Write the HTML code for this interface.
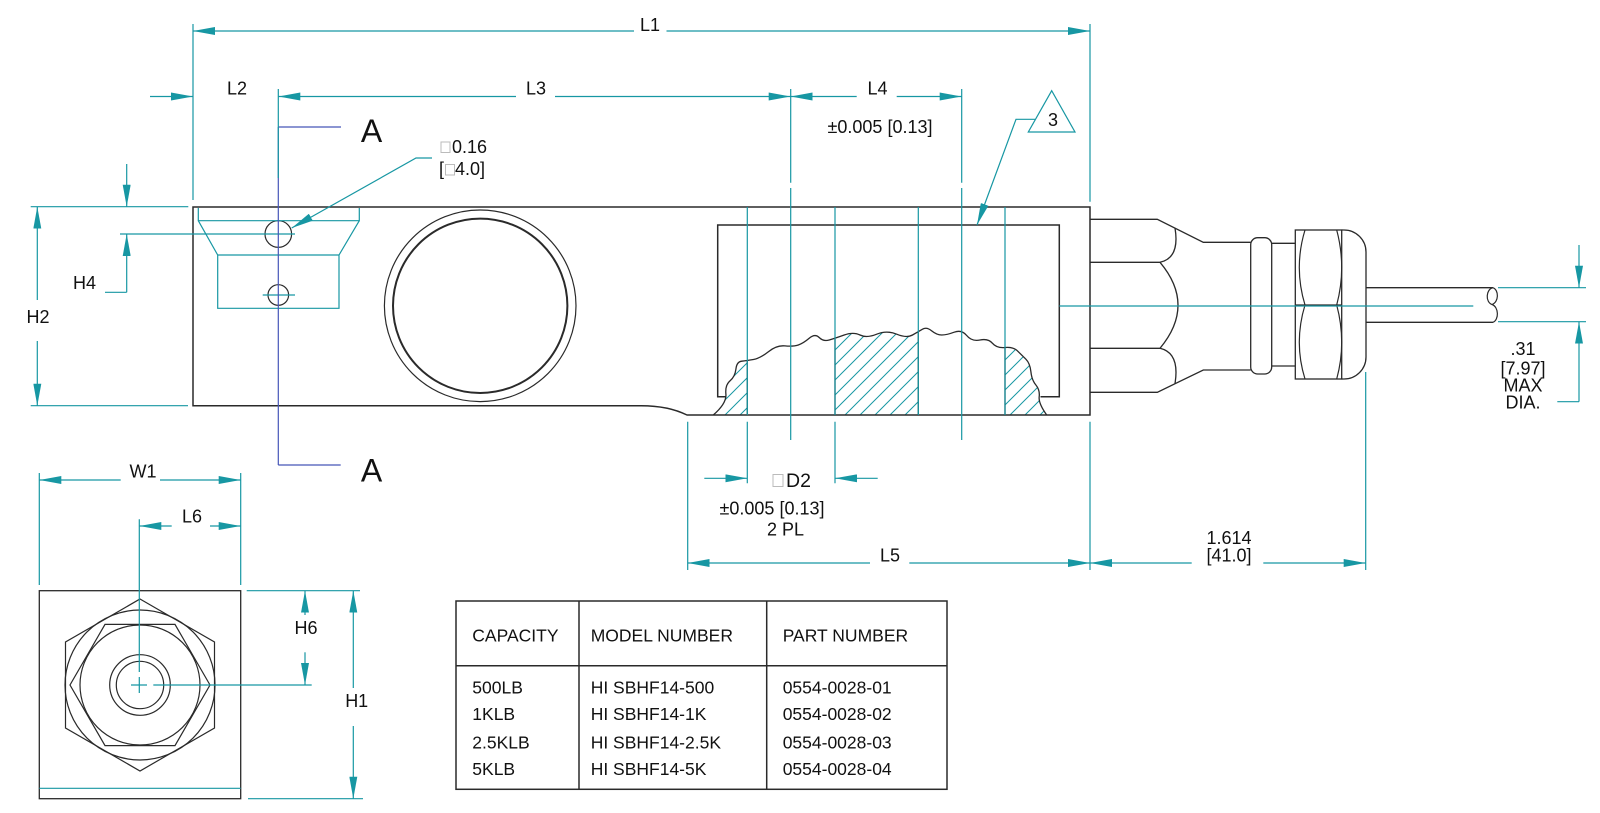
<!DOCTYPE html>
<html>
<head>
<meta charset="utf-8">
<style>
  html,body{margin:0;padding:0;background:#fff;}
  svg{display:block;}
  text{font-family:"Liberation Sans","DejaVu Sans",sans-serif;fill:#111;}
</style>
</head>
<body>
<svg width="1600" height="813" viewBox="0 0 1600 813" xmlns="http://www.w3.org/2000/svg">
<defs>
  <marker id="a" viewBox="0 0 22 8" refX="22" refY="4" markerWidth="22" markerHeight="8" markerUnits="userSpaceOnUse" orient="auto-start-reverse">
    <path d="M0,0 L22,4 L0,8 Z" fill="#1797a3"/>
  </marker>
  <pattern id="h" patternUnits="userSpaceOnUse" width="15" height="15">
    <path d="M0,15 L15,0 M-4,4 L4,-4 M11,19 L19,11" stroke="#1797a3" stroke-width="1"/>
  </pattern>
  <clipPath id="wc">
    <path d="M713.3,415 Q726.7,403.3 725.9,394.2 Q725,385 730,380.9 Q735,376.7 735.9,369.2 Q736.7,361.7 741.7,361.2 Q746.7,360.7 753.4,359.5 Q760,358.3 768.4,351.7 Q776.7,345 785,345.9 Q793.3,346.7 798.3,345 Q803.3,343.3 809.2,338.3 Q815,333.3 819.2,337.5 Q823.3,341.7 829.2,340 Q835,338.3 844.2,335 Q853.3,331.7 860,335 Q866.7,338.3 876.7,334.2 Q886.7,330 896.7,334.2 Q906.7,338.3 912.5,335 Q918.3,331.7 922.5,329.2 Q926.7,326.7 931.7,330.9 Q936.7,335 941.7,335 Q946.7,335 954.2,332.2 Q961.7,329.3 966.7,335.5 Q971.7,341.7 980,340 Q988.3,338.3 992.5,343.3 Q996.7,348.3 1005,347.5 Q1013.3,346.7 1017.5,350.9 Q1021.7,355 1025.9,359.2 Q1030,363.3 1030.9,371.7 Q1031.7,380 1035.9,385 Q1040,390 1039.2,396.7 Q1038.3,403.3 1046.7,415 Z"/>
  </clipPath>
</defs>

<!-- ===== hatching ===== -->
<g clip-path="url(#wc)">
  <rect x="713" y="350" width="34.3" height="65" fill="url(#h)"/>
  <rect x="835" y="320" width="83.3" height="95" fill="url(#h)"/>
  <rect x="1005" y="335" width="42" height="80" fill="url(#h)"/>
</g>

<!-- ===== main body (black) ===== -->
<g fill="none" stroke="#2a2a2a" stroke-width="1.5">
  <path d="M640,405.7 L193,405.7 L193,207 L1090,207 L1090,415 L687,415 Q668,405.5 640,405.7"/>
  <path d="M726.5,396.7 L717.7,396.7 L717.7,225 L1059.3,225 L1059.3,396.7 L1040.5,396.7"/>
  <circle cx="480.2" cy="305.8" r="95.8" stroke-width="1.2"/>
  <circle cx="480.2" cy="305.8" r="87.2" stroke-width="2"/>
  <circle cx="278.3" cy="234" r="13.3" stroke-width="1.2"/>
  <circle cx="278.3" cy="295" r="10.3" stroke-width="1.2"/>
  <path stroke-width="1.3" d="M713.3,415 Q726.7,403.3 725.9,394.2 Q725,385 730,380.9 Q735,376.7 735.9,369.2 Q736.7,361.7 741.7,361.2 Q746.7,360.7 753.4,359.5 Q760,358.3 768.4,351.7 Q776.7,345 785,345.9 Q793.3,346.7 798.3,345 Q803.3,343.3 809.2,338.3 Q815,333.3 819.2,337.5 Q823.3,341.7 829.2,340 Q835,338.3 844.2,335 Q853.3,331.7 860,335 Q866.7,338.3 876.7,334.2 Q886.7,330 896.7,334.2 Q906.7,338.3 912.5,335 Q918.3,331.7 922.5,329.2 Q926.7,326.7 931.7,330.9 Q936.7,335 941.7,335 Q946.7,335 954.2,332.2 Q961.7,329.3 966.7,335.5 Q971.7,341.7 980,340 Q988.3,338.3 992.5,343.3 Q996.7,348.3 1005,347.5 Q1013.3,346.7 1017.5,350.9 Q1021.7,355 1025.9,359.2 Q1030,363.3 1030.9,371.7 Q1031.7,380 1035.9,385 Q1040,390 1039.2,396.7 Q1038.3,403.3 1046.7,415"/>
  <path stroke-width="1.3" d="M835,339 V415 M918.3,332 V415 M1005,347.5 V415 M747.3,361 V415"/>

  <!-- connector -->
  <path stroke-width="1.3" d="M1090,219.3 L1157.3,219.3 L1203.3,242.3 L1250.7,242.3 M1090,392.3 L1157.3,392.3 L1203.3,370 L1250.7,370"/>
  <path stroke-width="1.3" d="M1090,262.3 L1160,262.3 M1090,348.3 L1160,348.3"/>
  <path stroke-width="1.3" d="M1160,262.3 Q1180,258 1175,228 M1160,262.3 Q1196,305 1160,348.3 M1160,348.3 Q1180,353 1175,383.5"/>
  <rect x="1250.7" y="237.7" width="21" height="136.3" rx="7" ry="7" stroke-width="1.3"/>
  <path stroke-width="1.3" d="M1271.7,243.3 L1295.3,243.3 M1271.7,366 L1295.3,366"/>
  <rect x="1295.3" y="230" width="46.4" height="149" stroke-width="1.3"/>
  <path stroke-width="1.2" d="M1295.3,305 L1341.7,305 M1305,230 Q1293.6,267.5 1305,305 Q1293.6,342.5 1305,379 M1336.7,230 Q1346.7,267.5 1336.7,305 Q1346.7,342.5 1336.7,379"/>
  <path stroke-width="1.3" d="M1341.7,230 L1344,230 A22,22 0 0 1 1366,252 L1366,357 A22,22 0 0 1 1344,379 L1341.7,379"/>
  <path stroke-width="1.3" d="M1366,287.7 L1493,287.7 M1366,322.3 L1493,322.3"/>
  <path stroke-width="1.2" d="M1493,287.7 C1486,289 1485,302 1492,304.5 C1499,307 1499,320 1493,322.3 M1492,304.5 C1499,302 1499,290 1493,287.7"/>

  <!-- end view -->
  <rect x="39.3" y="590.7" width="201.4" height="208" stroke-width="1.3"/>
  <polygon stroke-width="1.2" points="140,599 214.5,642 214.5,728 140,771 65.5,728 65.5,642"/>
  <circle cx="140" cy="685" r="75" stroke-width="1.2"/>
  <polygon stroke-width="1.2" points="210,685 175,624.4 105,624.4 70,685 105,745.6 175,745.6"/>
  <circle cx="140" cy="685" r="60" stroke-width="1.2"/>
  <circle cx="140" cy="685" r="30.3" stroke-width="1.2"/>
  <circle cx="140" cy="685" r="23.7" stroke-width="1.2"/>

  <!-- table -->
  <rect x="456" y="601" width="491" height="188.3" stroke-width="1.5"/>
  <path stroke-width="1.5" d="M579,601 V789.3 M766.7,601 V789.3 M456,665.7 H947"/>
</g>

<!-- ===== teal construction / dimension lines ===== -->
<g fill="none" stroke="#1797a3" stroke-width="1.2">
  <path d="M198.3,208 V220.7 H359.3 V208 M198.3,220.7 L217.7,255 H339 L359.3,220.7 M217.7,255 V308.3 H339 V255"/>
  <path d="M120,234 H295 M262.7,295 H295"/>
  <path d="M747.3,207 V415 M835,207 V415 M918.3,207 V415 M1005,207 V415"/>
  <path d="M790.7,89 V182.7 M790.7,188 V440 M961.7,89 V182.7 M961.7,188 V440"/>
  <path d="M1059.3,306 H1473.3"/>

  <path d="M193,24 V200 M1090,24 V201.7"/>
  <path d="M30.7,206.7 H188.3 M30.7,405.7 H188"/>
  <path d="M747.3,421.7 V483.3 M835,421.7 V483.3"/>
  <path d="M687.7,421.7 V570 M1090,421.7 V570 M1365.7,372 V570"/>
  <path d="M1498,287.7 H1586 M1498,321.7 H1586"/>
  <path d="M39.3,473 V585 M240.7,473 V585"/>
  <path d="M246.7,590.7 H360 M248,798.7 H363"/>
  <path d="M139.3,519.3 V672 M139.3,677 V693 M131,685 H147 M153.3,685 H311.7"/>
  <path d="M39.3,788.3 H240.7"/>

  <!-- L1 -->
  <line x1="193" y1="31" x2="634" y2="31" marker-start="url(#a)"/>
  <line x1="666.5" y1="31" x2="1090" y2="31" marker-end="url(#a)"/>
  <!-- L2 -->
  <line x1="150" y1="96.5" x2="193" y2="96.5" marker-end="url(#a)"/>
  <!-- L3 -->
  <line x1="278.3" y1="96.5" x2="516" y2="96.5" marker-start="url(#a)"/>
  <line x1="555" y1="96.5" x2="790.7" y2="96.5" marker-end="url(#a)"/>
  <!-- L4 -->
  <line x1="790.7" y1="96.5" x2="856.7" y2="96.5" marker-start="url(#a)"/>
  <line x1="896.7" y1="96.5" x2="961.7" y2="96.5" marker-end="url(#a)"/>
  <!-- H2 -->
  <line x1="37.3" y1="206.7" x2="37.3" y2="300" marker-start="url(#a)"/>
  <line x1="37.3" y1="341" x2="37.3" y2="405.7" marker-end="url(#a)"/>
  <!-- H4 -->
  <line x1="126.7" y1="164" x2="126.7" y2="206.7" marker-end="url(#a)"/>
  <line x1="126.7" y1="292.3" x2="126.7" y2="234" marker-end="url(#a)"/>
  <path d="M126.7,292.3 H105"/>
  <!-- D2 -->
  <line x1="704.3" y1="478.3" x2="747.3" y2="478.3" marker-end="url(#a)"/>
  <line x1="877.7" y1="478.3" x2="835" y2="478.3" marker-end="url(#a)"/>
  <!-- L5 -->
  <line x1="687.7" y1="563" x2="870" y2="563" marker-start="url(#a)"/>
  <line x1="909.3" y1="563" x2="1090" y2="563" marker-end="url(#a)"/>
  <!-- 1.614 -->
  <line x1="1090" y1="563" x2="1191.7" y2="563" marker-start="url(#a)"/>
  <line x1="1263.3" y1="563" x2="1365.7" y2="563" marker-end="url(#a)"/>
  <!-- .31 -->
  <line x1="1579" y1="245" x2="1579" y2="287.7" marker-end="url(#a)"/>
  <line x1="1579" y1="401.7" x2="1579" y2="321.7" marker-end="url(#a)"/>
  <path d="M1579,401.7 H1557.3"/>
  <!-- W1 -->
  <line x1="39.3" y1="480" x2="120.7" y2="480" marker-start="url(#a)"/>
  <line x1="160" y1="480" x2="240.7" y2="480" marker-end="url(#a)"/>
  <!-- L6 -->
  <line x1="139.3" y1="526" x2="171.7" y2="526" marker-start="url(#a)"/>
  <line x1="210" y1="526" x2="240.7" y2="526" marker-end="url(#a)"/>
  <!-- H6 -->
  <line x1="305" y1="590.7" x2="305" y2="615" marker-start="url(#a)"/>
  <line x1="305" y1="652.3" x2="305" y2="685" marker-end="url(#a)"/>
  <!-- H1 -->
  <line x1="353.3" y1="590.7" x2="353.3" y2="688" marker-start="url(#a)"/>
  <line x1="353.3" y1="726" x2="353.3" y2="798.7" marker-end="url(#a)"/>
  <!-- leaders -->
  <polyline points="432,158 416,158 291.7,228" marker-end="url(#a)"/>
  <polyline points="1035,119.3 1016,119.3 977,225" marker-end="url(#a)"/>
  <polygon points="1051.7,90.7 1028.3,132 1075,132"/>
</g>

<!-- ===== section line A-A (blue) ===== -->
<g fill="none" stroke="#4656b8" stroke-width="1.2">
  <path d="M278.3,127 V465 M278.3,127 H341 M278.3,465 H340.7"/>
</g>
<path d="M278.3,89 V178" stroke="#1797a3" stroke-width="1.2" fill="none"/>

<!-- ===== glyph boxes ===== -->
<g fill="none" stroke="#bbb" stroke-width="1">
  <rect x="441" y="142" width="9" height="10.5"/>
  <rect x="445.5" y="164.5" width="9" height="10.5"/>
  <rect x="773" y="474.5" width="10" height="12"/>
</g>

<!-- ===== labels ===== -->
<g font-size="18">
  <text x="650" y="31" text-anchor="middle">L1</text>
  <text x="237" y="94.5" text-anchor="middle">L2</text>
  <text x="536" y="94.5" text-anchor="middle">L3</text>
  <text x="877.5" y="94.3" text-anchor="middle">L4</text>
  <text x="880" y="133" text-anchor="middle">±0.005 [0.13]</text>
  <text x="1053" y="126" text-anchor="middle">3</text>
  <text x="452" y="153">0.16</text>
  <text x="439" y="175">[</text>
  <text x="455" y="175">4.0]</text>
  <text x="38" y="323" text-anchor="middle">H2</text>
  <text x="84.5" y="289" text-anchor="middle">H4</text>
  <text x="786" y="487" font-size="19.5">D2</text>
  <text x="772" y="514.5" text-anchor="middle">±0.005 [0.13]</text>
  <text x="785.5" y="535.5" text-anchor="middle">2 PL</text>
  <text x="890" y="561.5" text-anchor="middle">L5</text>
  <text x="1229" y="544" text-anchor="middle">1.614</text>
  <text x="1229" y="561.5" text-anchor="middle">[41.0]</text>
  <text x="1523" y="355" text-anchor="middle">.31</text>
  <text x="1523" y="374.5" text-anchor="middle">[7.97]</text>
  <text x="1523" y="391.7" text-anchor="middle">MAX</text>
  <text x="1523" y="408.3" text-anchor="middle">DIA.</text>
  <text x="143" y="477.3" text-anchor="middle">W1</text>
  <text x="192" y="522.7" text-anchor="middle">L6</text>
  <text x="306" y="634" text-anchor="middle">H6</text>
  <text x="356.7" y="707" text-anchor="middle">H1</text>
</g>
<text x="371.5" y="142" font-size="32" text-anchor="middle">A</text>
<text x="371.5" y="481.7" font-size="32" text-anchor="middle">A</text>

<!-- ===== table text ===== -->
<g font-size="17.5">
  <text x="472.3" y="641.7">CAPACITY</text>
  <text x="590.7" y="641.7">MODEL NUMBER</text>
  <text x="782.7" y="641.7">PART NUMBER</text>

  <text x="472.3" y="693.3">500LB</text>
  <text x="472.3" y="720">1KLB</text>
  <text x="472.3" y="748.3">2.5KLB</text>
  <text x="472.3" y="775">5KLB</text>

  <text x="590.7" y="693.3">HI SBHF14-500</text>
  <text x="590.7" y="720">HI SBHF14-1K</text>
  <text x="590.7" y="748.3">HI SBHF14-2.5K</text>
  <text x="590.7" y="775">HI SBHF14-5K</text>

  <text x="782.7" y="693.3">0554-0028-01</text>
  <text x="782.7" y="720">0554-0028-02</text>
  <text x="782.7" y="748.3">0554-0028-03</text>
  <text x="782.7" y="775">0554-0028-04</text>
</g>
</svg>
</body>
</html>
